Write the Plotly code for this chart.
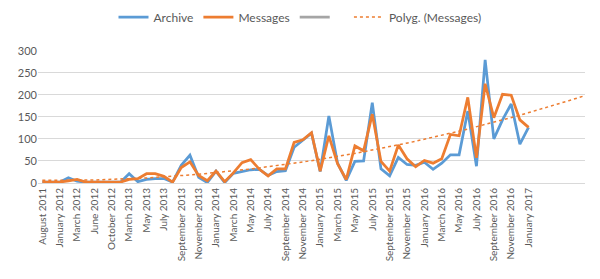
import numpy as np
import plotly.graph_objects as go

# ---- data ----
months = [
    "August 2011", "December 2011", "January 2012", "February 2012", "March 2012",
    "May 2012", "June 2012", "August 2012", "October 2012", "December 2012",
    "March 2013", "April 2013", "May 2013", "June 2013", "July 2013", "August 2013",
    "September 2013", "October 2013", "November 2013", "December 2013",
    "January 2014", "February 2014", "March 2014", "April 2014", "May 2014",
    "June 2014", "July 2014", "August 2014", "September 2014", "October 2014",
    "November 2014", "December 2014", "January 2015", "February 2015", "March 2015",
    "April 2015", "May 2015", "June 2015", "July 2015", "August 2015",
    "September 2015", "October 2015", "November 2015", "December 2015",
    "January 2016", "February 2016", "March 2016", "April 2016", "May 2016",
    "June 2016", "July 2016", "August 2016", "September 2016", "October 2016",
    "November 2016", "December 2016", "January 2017",
]

archive = [2, 2, 2, 12, 4, 2, 2, 2, 2, 2,
           21, 3, 8, 10, 10, 2, 40, 63, 13, 1,
           27, 1, 22, 26, 30, 31, 17, 26, 28, 81,
           96, 113, 26, 152, 45, 6, 49, 50, 182, 32,
           16, 58, 42, 40, 47, 31, 45, 64, 64, 163,
           38, 279, 100, 143, 179, 88, 126]

messages = [2, 2, 2, 5, 8, 2, 2, 2, 2, 2,
            8, 10, 21, 21, 15, 2, 35, 48, 17, 5,
            27, 3, 23, 46, 53, 31, 16, 32, 32, 92,
            98, 114, 27, 107, 44, 8, 84, 73, 156, 49,
            27, 86, 55, 37, 51, 45, 55, 110, 107, 194,
            57, 225, 148, 201, 199, 143, 126]

forecast_periods = 6  # trendline forward forecast (categories)

# ---- build ----
idx = list(range(len(months)))
tick_idx = idx[::2]
tick_txt = [months[i] for i in tick_idx]

coef = np.polyfit(idx, messages, 2)
trend_x = np.linspace(0, len(months) - 1 + forecast_periods + 0.5, 200)
trend_y = np.polyval(coef, trend_x)

FONT = "Lato, Open Sans, sans-serif"
GRAY_TXT = "#595959"

fig = go.Figure()
fig.add_trace(go.Scatter(x=idx, y=archive, mode="lines", name="Archive",
                         line=dict(color="#5B9BD5", width=2.75)))
fig.add_trace(go.Scatter(x=idx, y=messages, mode="lines", name="Messages",
                         line=dict(color="#ED7D31", width=2.75)))
fig.add_trace(go.Scatter(x=[None], y=[None], mode="lines", name="\u00a0\u00a0\u00a0",
                         line=dict(color="#A5A5A5", width=2.75)))
fig.add_trace(go.Scatter(x=trend_x, y=trend_y, mode="lines", name="Polyg. (Messages)",
                         line=dict(color="#ED7D31", width=1.5, dash="dot")))

fig.update_layout(
    width=600, height=279,
    margin=dict(l=38, r=15, t=43, b=96),
    paper_bgcolor="white", plot_bgcolor="white",
    font=dict(family=FONT, color=GRAY_TXT, size=11),
    showlegend=True,
    legend=dict(orientation="h", xref="container", x=0.5, xanchor="center",
                yref="container", y=1 - 17 / 279, yanchor="middle",
                font=dict(size=12, color=GRAY_TXT), traceorder="normal",
                bgcolor="rgba(0,0,0,0)"),
)
fig.update_xaxes(range=[-0.5, len(months) - 1 + forecast_periods + 0.5],
                 tickmode="array", tickvals=tick_idx, ticktext=tick_txt,
                 tickangle=-90, tickfont=dict(size=10, color=GRAY_TXT),
                 showgrid=False, showline=True, linecolor="#D9D9D9", linewidth=1,
                 ticks="", zeroline=False, fixedrange=True)
fig.update_yaxes(range=[0, 300], tickvals=[0, 50, 100, 150, 200, 250, 300],
                 tickfont=dict(size=11, color=GRAY_TXT),
                 showgrid=True, gridcolor="#D9D9D9", gridwidth=1,
                 zeroline=False, showline=False, ticks="", fixedrange=True)

fig.write_html("out.html")
